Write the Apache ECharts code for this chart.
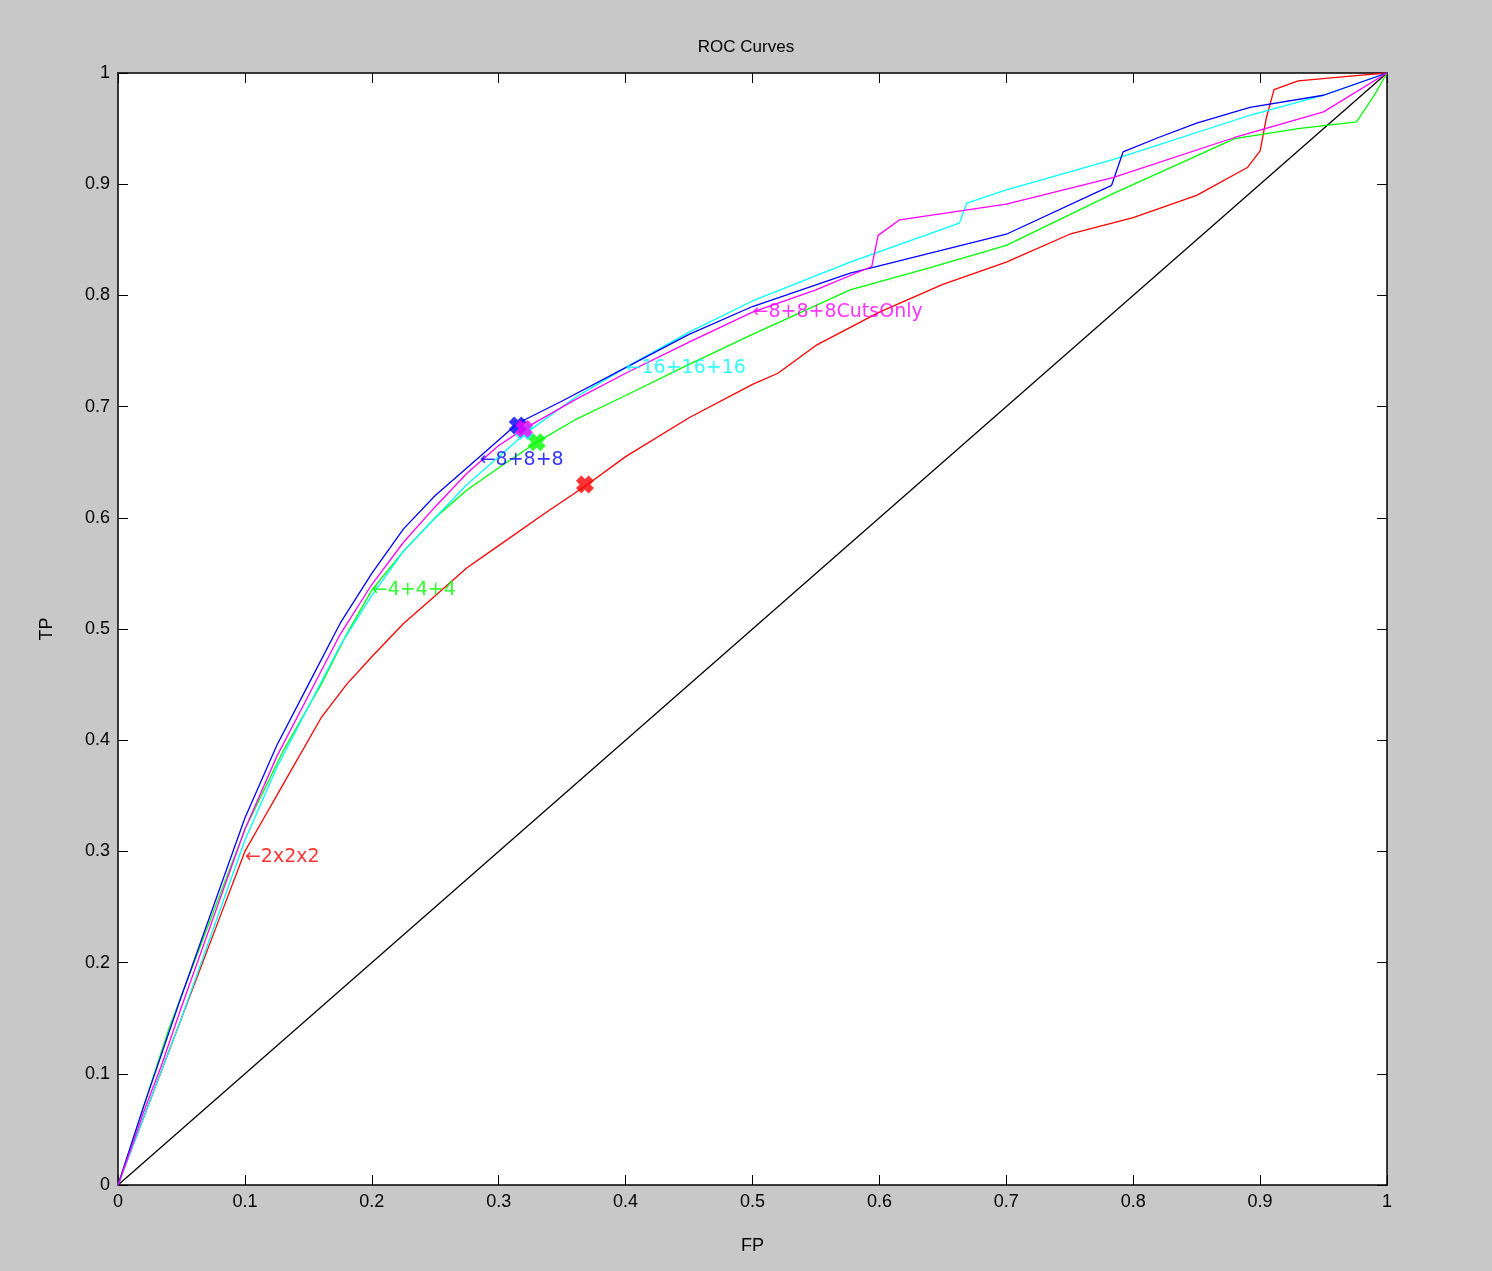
<!DOCTYPE html>
<html>
<head>
<meta charset="utf-8">
<script src="https://cdn.jsdelivr.net/npm/echarts@6/dist/echarts.min.js"></script>
<style>
  html, body { margin: 0; padding: 0; background: #c8c8c8; }
  #chart { width: 1492px; height: 1271px; }
</style>
</head>
<body>
<div id="chart"></div>
<script>
// ROC curve points, [FP, TP]
var roc2x2x2 = [[0,0],[0.01,0.03],[0.02,0.06],[0.035,0.105],[0.05,0.15],[0.065,0.195],[0.08,0.24],[0.1,0.3],[0.115,0.33],[0.13,0.36],[0.16,0.42],[0.18,0.45],[0.2,0.475],[0.225,0.505],[0.25,0.53],[0.275,0.555],[0.3,0.575],[0.335,0.603],[0.37,0.63],[0.4,0.655],[0.45,0.69],[0.5,0.72],[0.52,0.73],[0.55,0.755],[0.6,0.785],[0.65,0.81],[0.7,0.83],[0.75,0.855],[0.8,0.87],[0.85,0.89],[0.89,0.915],[0.9,0.93],[0.905,0.96],[0.911,0.985],[0.93,0.993],[0.98,0.998],[1,1]];
var roc4x4x4 = [[0,0],[0.01,0.035],[0.02,0.07],[0.04,0.14],[0.06,0.2],[0.08,0.26],[0.1,0.32],[0.115,0.355],[0.13,0.39],[0.145,0.42],[0.16,0.45],[0.18,0.495],[0.2,0.535],[0.225,0.57],[0.25,0.6],[0.275,0.625],[0.3,0.645],[0.33,0.668],[0.36,0.688],[0.4,0.71],[0.45,0.738],[0.5,0.765],[0.577,0.805],[0.64,0.825],[0.7,0.845],[0.785,0.892],[0.88,0.941],[0.93,0.95],[0.976,0.956],[0.99,0.98],[1,1]];
var roc8x8x8 = [[0,0],[0.01,0.035],[0.02,0.07],[0.035,0.12],[0.05,0.17],[0.075,0.25],[0.1,0.33],[0.125,0.395],[0.15,0.45],[0.175,0.505],[0.2,0.55],[0.225,0.59],[0.25,0.62],[0.285,0.655],[0.315,0.685],[0.35,0.705],[0.4,0.735],[0.45,0.765],[0.5,0.79],[0.577,0.82],[0.64,0.838],[0.7,0.855],[0.783,0.899],[0.792,0.929],[0.82,0.942],[0.85,0.955],[0.892,0.969],[0.95,0.98],[1,1]];
var roc16x16x16 = [[0,0],[0.01,0.03],[0.02,0.06],[0.035,0.105],[0.05,0.15],[0.075,0.23],[0.1,0.31],[0.125,0.375],[0.15,0.43],[0.175,0.485],[0.2,0.53],[0.225,0.57],[0.25,0.6],[0.275,0.63],[0.3,0.655],[0.32,0.675],[0.36,0.708],[0.4,0.735],[0.45,0.767],[0.5,0.795],[0.577,0.83],[0.663,0.865],[0.669,0.883],[0.7,0.895],[0.784,0.922],[0.892,0.962],[0.95,0.98],[1,1]];
var roc8CutsOnly = [[0,0],[0.01,0.032],[0.02,0.065],[0.035,0.11],[0.05,0.16],[0.075,0.24],[0.1,0.32],[0.125,0.385],[0.15,0.44],[0.175,0.495],[0.2,0.54],[0.225,0.578],[0.25,0.61],[0.275,0.64],[0.3,0.665],[0.32,0.68],[0.36,0.706],[0.4,0.73],[0.45,0.758],[0.5,0.785],[0.55,0.805],[0.594,0.826],[0.599,0.854],[0.616,0.868],[0.7,0.882],[0.784,0.906],[0.88,0.942],[0.95,0.965],[1,1]];
var chance = [[0,0],[1,1]];
// operating points marked with X
var ops = [
  { name: '2x2x2', color: '#ff0000', pt: [0.368, 0.63] },
  { name: '4+4+4', color: '#00ff00', pt: [0.33, 0.668] },
  { name: '16+16+16', color: '#00ffff', pt: [0.32, 0.678] },
  { name: '8+8+8', color: '#0000ff', pt: [0.315, 0.683] },
  { name: '8+8+8CutsOnly', color: '#ff00ff', pt: [0.32, 0.68] }
];
// text labels: [FP, TP, text, colour]
var labels = [
  [0.1, 0.295, '←2x2x2', '#ff0000'],
  [0.2, 0.535, '←4+4+4', '#00ff00'],
  [0.285, 0.652, '←8+8+8', '#0000ff'],
  [0.4, 0.735, '←16+16+16', '#00ffff'],
  [0.5, 0.785, '←8+8+8CutsOnly', '#ff00ff']
];

var fmt = function (v) { return String(Math.round(v * 10) / 10); };
var font = 'Liberation Sans, Arial, sans-serif';

function axis(pos, show, name) {
  return {
    type: 'value', min: 0, max: 1, interval: 0.1, position: pos,
    name: name, nameLocation: 'middle',
    nameGap: pos === 'bottom' ? 52 : 62,
    nameTextStyle: { color: '#000', fontSize: 18, fontFamily: font },
    axisLine: { show: true, onZero: false, lineStyle: { color: '#000', width: 1.5 } },
    axisTick: { show: true, inside: true, length: 10, lineStyle: { color: '#000' } },
    axisLabel: { show: show, color: '#000', fontSize: 18, fontFamily: font, formatter: fmt, margin: 8 },
    splitLine: { show: false }
  };
}

function line(data, color) {
  return { type: 'line', data: data, symbol: 'none', animation: false,
    lineStyle: { color: color, width: 1.3 }, z: 3 };
}

var series = [
  line(chance, '#000000'),
  line(roc2x2x2, '#ff0000'),
  line(roc4x4x4, '#00ff00'),
  line(roc16x16x16, '#00ffff'),
  line(roc8x8x8, '#0000ff'),
  line(roc8CutsOnly, '#ff00ff')
];
ops.forEach(function (o) {
  series.push({ type: 'scatter', data: [o.pt],
    symbol: 'path://M0,3 L3,0 L5,2 L7,0 L10,3 L8,5 L10,7 L7,10 L5,8 L3,10 L0,7 L2,5 Z',
    symbolSize: 18, itemStyle: { color: o.color }, z: 5, animation: false });
});
labels.forEach(function (l) {
  series.push({ type: 'scatter', data: [[l[0], l[1]]], symbolSize: 0, z: 6, animation: false,
    label: { show: true, position: 'right', distance: 0, formatter: l[2], color: l[3], fontSize: 19, fontFamily: 'DejaVu Sans, sans-serif' } });
});

var chart = echarts.init(document.getElementById('chart'));
chart.setOption({
  backgroundColor: '#c8c8c8',
  title: { text: 'ROC Curves', left: 'center', top: 34,
    textStyle: { color: '#000', fontSize: 17, fontWeight: 'normal', fontFamily: font } },
  grid: { left: 118, right: 105, top: 73, bottom: 86, show: true, backgroundColor: '#fff', borderWidth: 0 },
  xAxis: [axis('bottom', true, 'FP'), axis('top', false, '')],
  yAxis: [axis('left', true, 'TP'), axis('right', false, '')],
  series: series
});
</script>
</body>
</html>
